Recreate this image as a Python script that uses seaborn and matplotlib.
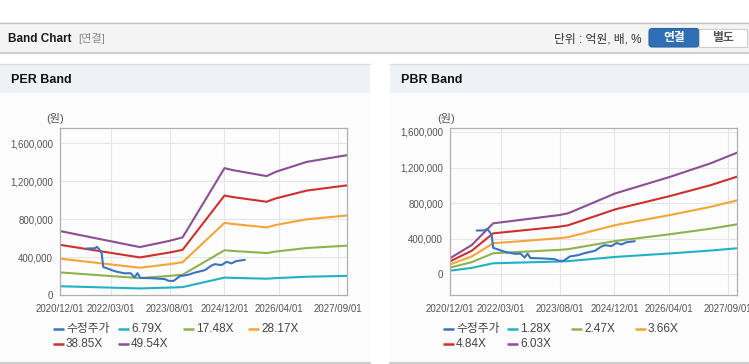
import matplotlib
matplotlib.use("Agg")
import matplotlib.pyplot as plt
import matplotlib.ticker as mticker
from matplotlib.patches import Rectangle, FancyBboxPatch
import seaborn as sns
import pandas as pd

# ---------------- data ----------------
price_dates = ["2021-07-26", "2021-10-07", "2021-10-25", "2021-11-12", "2021-12-06",
               "2021-12-20", "2022-01-20", "2022-03-05", "2022-04-20", "2022-07-01",
               "2022-08-20", "2022-09-25", "2022-10-20", "2022-11-15", "2023-02-20",
               "2023-06-20", "2023-07-20", "2023-09-05", "2023-10-31", "2024-01-10",
               "2024-03-10", "2024-06-10", "2024-08-07", "2024-09-05", "2024-11-04",
               "2024-12-19", "2025-02-01", "2025-03-17", "2025-05-30"]
price_values = [490000, 492000, 508000, 485000, 440000,
                295000, 282000, 262000, 245000, 228000,
                230000, 185000, 230000, 180000, 177000,
                168000, 150000, 148000, 198000, 212000,
                235000, 262000, 310000, 325000, 315000,
                350000, 333000, 358000, 370000]

per_dates = ["2020-12-01", "2022-11-10", "2023-08-01", "2023-11-25", "2024-12-01",
             "2025-02-13", "2025-12-10", "2026-03-01", "2026-12-01", "2027-11-25"]
per_eps = [13605, 10194, 11526, 12253, 26988,
           26564, 25293, 26200, 28320, 29750]
per_multiples = [6.79, 17.48, 28.17, 38.85, 49.54]

pbr_dates = ["2020-12-01", "2021-06-12", "2021-12-19", "2023-08-01", "2023-10-15",
             "2024-12-09", "2026-04-12", "2027-04-03", "2027-11-25"]
pbr_bps = [29400, 54200, 94700, 110300, 113400,
           150700, 181800, 206800, 226700]
pbr_multiples = [1.28, 2.47, 3.66, 4.84, 6.03]

price_label = "수정주가"
x_ticks = ["2020-12-01", "2022-03-01", "2023-08-01", "2024-12-01", "2026-04-01", "2027-09-01"]
x_tick_labels = ["2020/12/01", "2022/03/01", "2023/08/01", "2024/12/01", "2026/04/01", "2027/09/01"]
y_ticks = [0, 400000, 800000, 1200000, 1600000]

price_color = "#3b73c4"
band_colors = ["#1fb2c6", "#8db350", "#f5a536", "#d02f2e", "#8c4e96"]

# ---------------- style ----------------
sns.set_style("white")
plt.rcParams['font.family'] = ['Liberation Sans', 'Noto Sans CJK KR', 'DejaVu Sans']

W, H = 749, 364
fig = plt.figure(figsize=(W / 100, H / 100), dpi=100)
fig.patch.set_facecolor("white")

bg = fig.add_axes([0, 0, 1, 1], zorder=0)
bg.set_xlim(0, W)
bg.set_ylim(H, 0)
bg.axis("off")

# top header bar
bg.add_patch(Rectangle((0, 22), W, 31, facecolor="#f4f4f4", edgecolor="none"))
bg.plot([0, W], [22.5, 22.5], color="#c4c4c4", lw=1)
bg.plot([0, W], [53, 53], color="#cfcfcf", lw=1.5)
title_txt = bg.text(8, 39, "Band Chart", fontsize=8.5, fontweight="bold",
                    color="#1a1a1a", va="center")
renderer = fig.canvas.get_renderer()
bb = title_txt.get_window_extent(renderer=renderer)
x_after = max(bb.x1 + 7, 62)
bg.text(x_after, 39, "[연결]", fontsize=8, color="#8a8a8a", va="center")
bg.text(641, 39, "단위 : 억원, 배, %", fontsize=8.5, color="#333333", va="center", ha="right")
bg.add_patch(FancyBboxPatch((649, 28.5), 50, 18.5, boxstyle="round,pad=0,rounding_size=3",
                            facecolor="#2f6fb6", edgecolor="#2a64a6", lw=0.8))
bg.text(674, 38.5, "연결", fontsize=8.5, fontweight="bold", color="white", va="center", ha="center")
bg.add_patch(Rectangle((699, 28.5), 48, 18.5, facecolor="white", edgecolor="#cccccc", lw=0.8))
bg.text(723, 38.5, "별도", fontsize=8.5, fontweight="bold", color="#555555", va="center", ha="center")

# panels
for px0, px1, title in [(0, 370, "PER Band"), (390, W, "PBR Band")]:
    bg.add_patch(Rectangle((px0, 64), px1 - px0, 298, facecolor="#fcfcfc", edgecolor="none"))
    bg.add_patch(Rectangle((px0, 64), px1 - px0, 29, facecolor="#eef2f7", edgecolor="none"))
    bg.plot([px0, px1], [64, 64], color="#dedede", lw=1)
    bg.plot([px0, px1], [362.5, 362.5], color="#cccccc", lw=1.5)
    bg.text(px0 + 11, 80, title, fontsize=9, fontweight="bold", color="#111111", va="center")


def make_panel(left_px, dates, base, multiples, ylim, legend_x0, legend_dx, unit_x):
    ax = fig.add_axes([left_px / W, (H - 295) / H, 287 / W, 167 / H], zorder=1)
    ax.set_facecolor("#fdfdfd")
    frames = []
    for m in multiples:
        frames.append(pd.DataFrame({"date": pd.to_datetime(dates),
                                    "value": [b * m for b in base],
                                    "series": f"{m:.2f}X"}))
    frames.append(pd.DataFrame({"date": pd.to_datetime(price_dates),
                                "value": price_values, "series": price_label}))
    df = pd.concat(frames, ignore_index=True)
    names = [f"{m:.2f}X" for m in multiples]
    palette = dict(zip(names, band_colors))
    palette[price_label] = price_color
    sns.lineplot(data=df, x="date", y="value", hue="series", hue_order=names + [price_label],
                 palette=palette, ax=ax, legend=False, linewidth=1.5, estimator=None)
    ax.set_xlim(pd.Timestamp("2020-12-01"), pd.Timestamp("2027-11-24"))
    ax.set_ylim(*ylim)
    ax.set_xticks(pd.to_datetime(x_ticks))
    ax.set_xticklabels(x_tick_labels)
    ax.set_yticks(y_ticks)
    ax.yaxis.set_major_formatter(mticker.FuncFormatter(lambda v, p: f"{int(v):,}"))
    ax.set_xlabel("")
    ax.set_ylabel("")
    ax.grid(True, color="#e6e6e6", lw=0.8)
    ax.set_axisbelow(True)
    for s in ax.spines.values():
        s.set_color("#b0b0b0")
        s.set_linewidth(0.9)
    ax.tick_params(axis="both", labelsize=7, labelcolor="#555555", color="#aaaaaa",
                   length=3, width=0.8, pad=2)
    ax.tick_params(axis="x", pad=3.5)
    bg.text(unit_x, 118, "(원)", fontsize=8, color="#555555", ha="center", va="center")
    # legend
    labels = [price_label] + names
    colors = [price_color] + band_colors
    for i, (lab, col) in enumerate(zip(labels, colors)):
        r, c = divmod(i, 4)
        x0 = legend_x0 + c * legend_dx
        y0 = 329 + r * 15
        bg.plot([x0, x0 + 11], [y0, y0], color=col, lw=1.8, solid_capstyle="butt")
        bg.text(x0 + 13, y0, lab, fontsize=8.5, color="#444444", va="center")
    return ax


make_panel(60, per_dates, per_eps, per_multiples, (0, 1760000), 53, 65, 55)
make_panel(450, pbr_dates, pbr_bps, pbr_multiples, (-236000, 1645000), 443, 64, 446)

fig.savefig("out.png", dpi=100)
